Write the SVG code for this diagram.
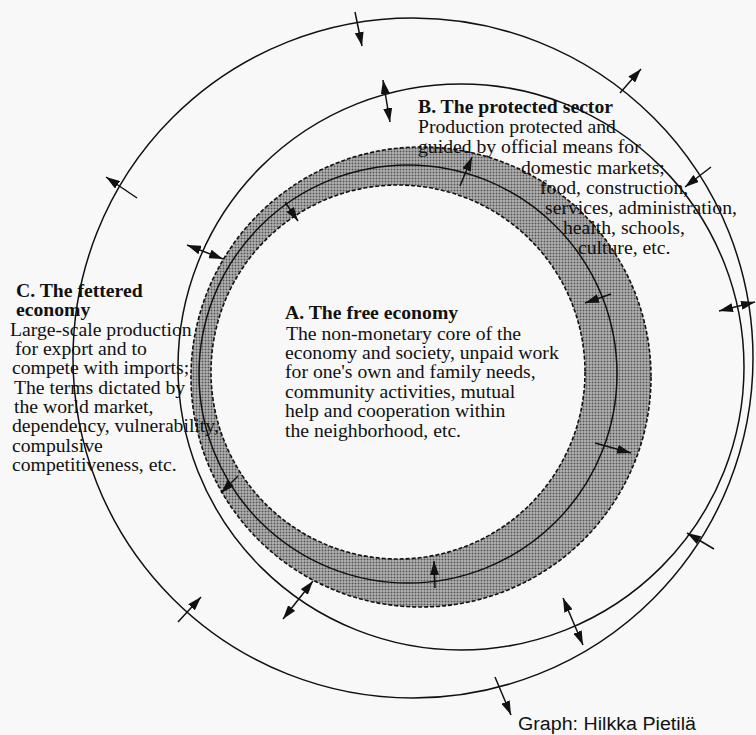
<svg xmlns="http://www.w3.org/2000/svg" width="756" height="735" viewBox="0 0 756 735">
<style>
.ring{fill:none;stroke:#111;stroke-width:1.5}
.dash{fill:none;stroke:#111;stroke-width:1.6;stroke-dasharray:4 2}
.t{font-family:"Liberation Serif","Times New Roman",serif;font-size:19.7px;fill:#111}
.b{font-weight:bold}
.ar{stroke:#111;stroke-width:1.5;fill:none}
.s{marker-end:url(#ah)}
.d{marker-start:url(#ah);marker-end:url(#ah)}
</style>
<defs>
<pattern id="dots" width="3" height="3" patternUnits="userSpaceOnUse">
<rect width="3" height="3" fill="#b4b4b4"/>
<circle cx="1.5" cy="1.5" r="1" fill="#555555"/>
</pattern>
<marker id="ah" viewBox="0 0 14 9" refX="14" refY="4.5" markerWidth="14" markerHeight="9" markerUnits="userSpaceOnUse" orient="auto-start-reverse">
<path d="M0,0 L14,4.5 L0,9 Z" fill="#111"/>
</marker>
</defs>
<rect width="756" height="735" fill="#f8f8f8"/>

<g id="ring-c">
<circle class="ring" cx="413" cy="358" r="340"/>
</g>
<g id="ring-b">
<circle class="ring" cx="461" cy="367" r="283"/>
</g>
<g id="band-a">
<path d="M191,377 a230,230 0 1,0 460,0 a230,230 0 1,0 -460,0 Z M211,372 a187,187 0 1,0 374,0 a187,187 0 1,0 -374,0 Z" fill="url(#dots)" fill-rule="evenodd"/>
<circle class="dash" cx="421" cy="377" r="230"/>
<circle class="dash" cx="398" cy="372" r="187"/>
<circle class="ring" cx="408" cy="374" r="209"/>
</g>

<g id="arrows">
<line class="ar s" x1="355" y1="12" x2="362" y2="46"/>
<line class="ar d" x1="383" y1="80" x2="390" y2="122"/>
<line class="ar s" x1="460" y1="186" x2="472" y2="157"/>
<line class="ar s" x1="620" y1="93" x2="641" y2="69"/>
<line class="ar s" x1="711" y1="167" x2="685" y2="187"/>
<line class="ar s" x1="137" y1="198" x2="106" y2="177"/>
<line class="ar d" x1="187" y1="245" x2="223" y2="259"/>
<line class="ar s" x1="285" y1="202" x2="298" y2="221"/>
<line class="ar s" x1="611" y1="294" x2="585" y2="303"/>
<line class="ar d" x1="719" y1="311" x2="755" y2="302"/>
<line class="ar s" x1="595" y1="443" x2="631" y2="453"/>
<line class="ar s" x1="238" y1="476" x2="221" y2="493"/>
<line class="ar s" x1="178" y1="622" x2="201" y2="597"/>
<line class="ar d" x1="283" y1="619" x2="313" y2="581"/>
<line class="ar s" x1="435" y1="588" x2="434" y2="561"/>
<line class="ar d" x1="563" y1="598" x2="583" y2="645"/>
<line class="ar s" x1="495" y1="677" x2="511" y2="715"/>
<line class="ar s" x1="714" y1="549" x2="687" y2="533"/>
</g>

<g id="label-a">
<text class="t b" x="285" y="319">A. The free economy</text>
<text class="t" x="286" y="340">The non-monetary core of the</text>
<text class="t" x="285" y="359">economy and society, unpaid work</text>
<text class="t" x="285" y="378">for one's own and family needs,</text>
<text class="t" x="285" y="398">community activities, mutual</text>
<text class="t" x="285" y="417">help and cooperation within</text>
<text class="t" x="285" y="437">the neighborhood, etc.</text>
</g>

<g id="label-b">
<text class="t b" x="418" y="113">B. The protected sector</text>
<text class="t" x="418" y="133">Production protected and</text>
<text class="t" x="418" y="153">guided by official means for</text>
<text class="t" x="521" y="174">domestic markets;</text>
<text class="t" x="540" y="194">food, construction,</text>
<text class="t" x="545" y="214">services, administration,</text>
<text class="t" x="563" y="234">health, schools,</text>
<text class="t" x="578" y="254">culture, etc.</text>
</g>

<g id="label-c">
<text class="t b" x="16" y="297">C. The fettered</text>
<text class="t b" x="16" y="316">economy</text>
<text class="t" x="10" y="336">Large-scale production</text>
<text class="t" x="15" y="355">for export  and to</text>
<text class="t" x="12" y="374">compete with imports;</text>
<text class="t" x="14" y="394">The terms dictated by</text>
<text class="t" x="14" y="413">the world market,</text>
<text class="t" x="12" y="432">dependency, vulnerability,</text>
<text class="t" x="12" y="452">compulsive</text>
<text class="t" x="12" y="471">competitiveness, etc.</text>
</g>

<g id="credit">
<text x="518" y="730" textLength="178" lengthAdjust="spacingAndGlyphs" style="font-family:'Liberation Sans',Arial,sans-serif;font-size:18px;fill:#111">Graph: Hilkka Pietilä</text>
</g>
</svg>
